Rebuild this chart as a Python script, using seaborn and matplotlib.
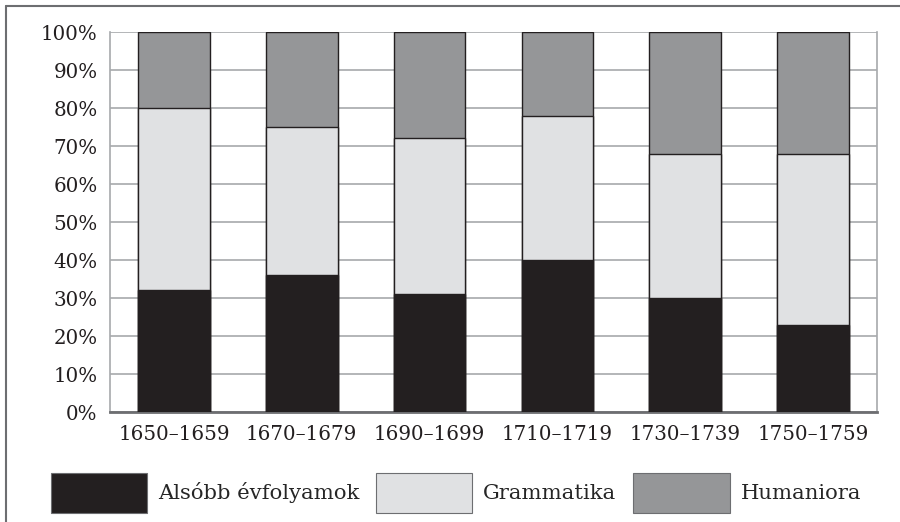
import pandas as pd
import matplotlib.pyplot as plt
import seaborn as sns
from matplotlib.patches import Patch
from matplotlib.lines import Line2D

periods = ['1650–1659', '1670–1679', '1690–1699', '1710–1719', '1730–1739', '1750–1759']
also = [32, 36, 31, 40, 30, 23]
grammatika = [48, 39, 41, 38, 38, 45]
humaniora = [20, 25, 28, 22, 32, 32]

labels = ['Alsóbb évfolyamok', 'Grammatika', 'Humaniora']
colors = ['#231f20', '#e0e1e3', '#959698']

df = pd.DataFrame({'period': periods, 'also': also,
                   'grammatika': grammatika, 'humaniora': humaniora})
df['c1'] = df['also']
df['c2'] = df['c1'] + df['grammatika']
df['c3'] = df['c2'] + df['humaniora']

sns.set_style('white')
plt.rcParams['font.family'] = ['DejaVu Serif']

fig = plt.figure(figsize=(9, 5.22), dpi=100)
ax = fig.add_axes([110 / 900, 1 - 412 / 522, 767 / 900, 380 / 522])

# stacked bars: draw the cumulative heights from top layer down
for col, c in zip(['c3', 'c2', 'c1'], colors[::-1]):
    sns.barplot(data=df, x='period', y=col, color=c, width=0.56,
                edgecolor='#231f20', linewidth=1.0, saturation=1, ax=ax, zorder=3)

ax.set_ylim(0, 100)
ax.set_xlim(-0.5, 5.5)
ax.set_yticks(range(0, 101, 10))
ax.set_yticklabels([f'{v}%' for v in range(0, 101, 10)])
ax.yaxis.grid(True, color='#a7a9ac', linewidth=1.2, zorder=0)
ax.set_axisbelow(True)
ax.set_xlabel('')
ax.set_ylabel('')
ax.tick_params(axis='both', length=0, labelsize=14.3, colors='#231f20')
ax.tick_params(axis='y', pad=9)
ax.tick_params(axis='x', pad=9)
for s in ['left', 'right']:
    ax.spines[s].set_color('#a7a9ac')
    ax.spines[s].set_linewidth(1.2)
ax.spines['top'].set_visible(False)
ax.spines['bottom'].set_color('#6d6e71')
ax.spines['bottom'].set_linewidth(2)

handles = [Patch(facecolor=c, edgecolor='#6d6e71', linewidth=0.8) for c in colors]
fig.legend(handles, labels, loc='center left', bbox_to_anchor=(51 / 900, 1 - 493 / 522),
           ncol=3, frameon=False, fontsize=15.2, handlelength=4.55, handleheight=2.5,
           handletextpad=0.52, columnspacing=0.8, borderaxespad=0, borderpad=0)

# partial frame around the figure
fig.add_artist(Line2D([6 / 900, 1], [1 - 6 / 522, 1 - 6 / 522], color='#6d6e71', lw=1.5))
fig.add_artist(Line2D([6 / 900, 6 / 900], [0, 1 - 6 / 522], color='#6d6e71', lw=1.5))

fig.savefig('out.png', dpi=100)
